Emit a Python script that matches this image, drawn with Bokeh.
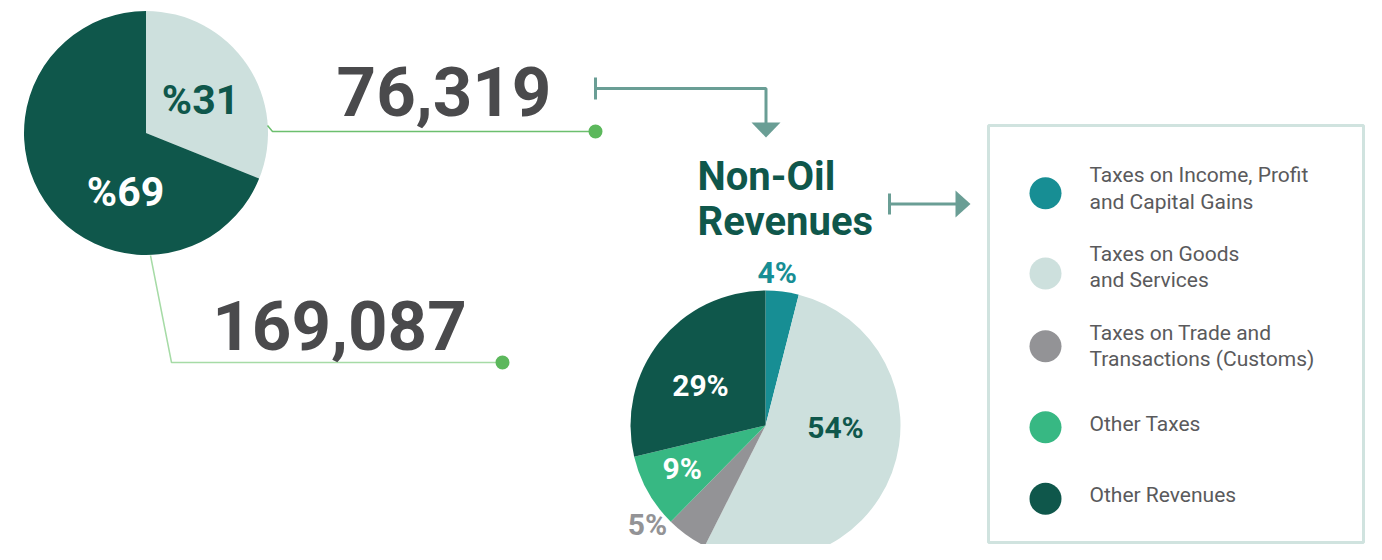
import math
from bokeh.plotting import figure
from bokeh.models import Range1d
from bokeh.core.properties import value
from bokeh.embed import file_html
from bokeh.resources import INLINE

# ---------------- data ----------------
revenue_labels = ["Non-Oil Revenues", "Oil Revenues"]
revenue_values = [76319, 169087]
revenue_pct_text = ["%31", "%69"]
revenue_number_text = ["76,319", "169,087"]
revenue_colors = ["#cde0dd", "#0f574b"]
revenue_label_colors = ["#0f574b", "#ffffff"]

nonoil_categories = [
    "Taxes on Income, Profit\nand Capital Gains",
    "Taxes on Goods\nand Services",
    "Taxes on Trade and\nTransactions (Customs)",
    "Other Taxes",
    "Other Revenues",
]
nonoil_shares = [4, 54, 5, 9, 29]
nonoil_colors = ["#178e94", "#cde0dd", "#939396", "#37b883", "#0f574b"]
nonoil_label_colors = ["#178e94", "#0f574b", "#939396", "#ffffff", "#ffffff"]

# ---------------- figure (data units = picture pixels, y downward negated) ----------------
W, H = 1366, 544
p = figure(width=W, height=H, x_range=Range1d(0, W), y_range=Range1d(-H, 0),
           output_backend="svg", toolbar_location=None, x_axis_type=None, y_axis_type=None,
           min_border=0)
p.grid.visible = False
p.outline_line_color = None
p.background_fill_color = "white"
p.border_fill_color = "white"

FONT = value("Roboto")
K = 0.39  # empirical baseline correction (fraction of font size)


def by(screen_baseline, size):
    return -(screen_baseline - K * size)


def pie_angles(vals):
    tot = float(sum(vals))
    starts, ends = [], []
    cum = 0.0
    for v in vals:
        a0 = math.pi / 2 - 2 * math.pi * cum / tot
        cum += v
        a1 = math.pi / 2 - 2 * math.pi * cum / tot
        starts.append(a1)
        ends.append(a0)
    return starts, ends


# ---------------- left pie ----------------
LCX, LCY, LR = 145.5, -132.5, 122
ls, le = pie_angles(revenue_values)
p.wedge(x=[LCX] * len(revenue_values), y=[LCY] * len(revenue_values), radius=LR,
        start_angle=ls, end_angle=le, direction="anticlock",
        fill_color=revenue_colors, line_color=None)

S1 = 41
p.text(x=[200, 125], y=[by(115, S1), by(207, S1)], text=revenue_pct_text,
       text_font=FONT, text_font_size=f"{S1}px", text_font_style="bold",
       text_color=revenue_label_colors, text_align="center", text_baseline="alphabetic")

# connector lines and dots
p.line(x=[267, 272, 595], y=[-125, -131, -131], line_color="#6cbf6e", line_width=1.5)
p.line(x=[150, 171, 502], y=[-255, -362, -362], line_color="#a6dba6", line_width=1.5)
p.scatter(x=[595, 502], y=[-131, -362], size=14, marker="circle",
          fill_color="#5cb85c", line_color=None)

# big numbers
S2 = 69
p.text(x=[443.5, 339], y=[by(118, S2), by(352, S2)], text=revenue_number_text,
       text_font=FONT, text_font_size=f"{S2}px", text_font_style="bold",
       text_color="#4a4a4c", text_align="center", text_baseline="alphabetic")

# ---------------- arrows ----------------
AC = "#6a9e95"
p.line(x=[595, 595], y=[-77, -99], line_color=AC, line_width=3)
p.line(x=[595, 765.5, 765.5], y=[-88, -88, -123], line_color=AC, line_width=3)
p.patch(x=[751, 780, 765.5], y=[-122, -122, -137], fill_color=AC, line_color=None)

p.line(x=[889, 889], y=[-193, -214], line_color=AC, line_width=3)
p.line(x=[889, 956], y=[-203.5, -203.5], line_color=AC, line_width=3)
p.patch(x=[955, 955, 970], y=[-190, -217, -203.5], fill_color=AC, line_color=None)

# title
S3 = 40
p.text(x=[697, 697], y=[by(192, S3), by(237, S3)], text=["Non-Oil", "Revenues"],
       text_font=FONT, text_font_size=f"{S3}px", text_font_style="bold",
       text_color="#0f574b", text_align="left", text_baseline="alphabetic")

# ---------------- right pie ----------------
RCX, RCY, RR = 765, -425, 135
rs, re_ = pie_angles(nonoil_shares)
p.wedge(x=[RCX] * len(nonoil_shares), y=[RCY] * len(nonoil_shares), radius=RR,
        start_angle=rs, end_angle=re_, direction="anticlock",
        fill_color=nonoil_colors, line_color=None)

S4 = 30
p.text(x=[776.7, 835, 647, 681.7, 700],
       y=[by(283.3, S4), by(439, S4), by(536, S4), by(479.3, S4), by(396.7, S4)],
       text=[f"{v}%" for v in nonoil_shares],
       text_font=FONT, text_font_size=f"{S4}px", text_font_style="bold",
       text_color=nonoil_label_colors, text_align="center", text_baseline="alphabetic")

# ---------------- legend ----------------
p.quad(left=[988], right=[1363], top=[-125], bottom=[-542], fill_color=None,
       line_color="#d0e3df", line_width=3)

leg_cy = [-192.7, -273, -345.7, -426.7, -498.3]
leg_baselines = [[183, 209.5], [261.7, 288], [340.7, 367], [431.7], [503]]
p.scatter(x=[1045] * 5, y=leg_cy, size=32, marker="circle",
          fill_color=nonoil_colors, line_color=None)
S5 = 21
tx, ty, tt = [], [], []
for cat, bls in zip(nonoil_categories, leg_baselines):
    for line, b in zip(cat.split("\n"), bls):
        tx.append(1089)
        ty.append(by(b, S5))
        tt.append(line)
p.text(x=tx, y=ty, text=tt, text_font=FONT, text_font_size=f"{S5}px",
       text_color="#5a5a5c", text_align="left", text_baseline="alphabetic")

open("out.html", "w").write(file_html(p, INLINE))
